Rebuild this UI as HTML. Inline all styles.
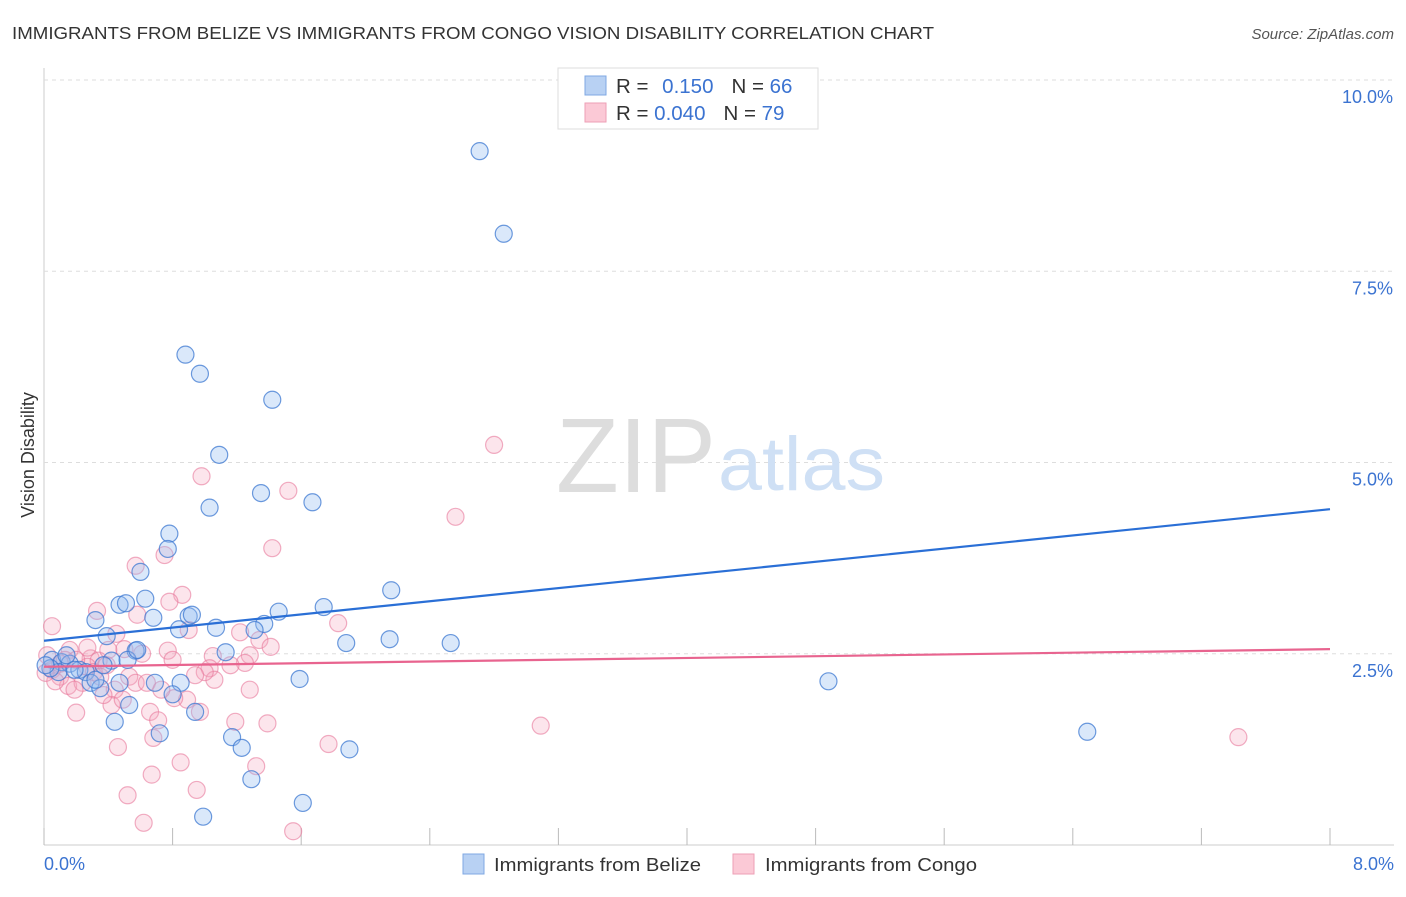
<!DOCTYPE html>
<html><head><meta charset="utf-8"><style>
body{margin:0;background:#fff;font-family:"Liberation Sans",sans-serif;}
svg text{font-family:"Liberation Sans",sans-serif;}
</style></head><body>
<svg id="chart" width="1406" height="892">
<text x="12" y="39" font-size="17.5" fill="#333" textLength="922" lengthAdjust="spacingAndGlyphs">IMMIGRANTS FROM BELIZE VS IMMIGRANTS FROM CONGO VISION DISABILITY CORRELATION CHART</text>
<text x="1394" y="39" font-size="15" fill="#555" font-style="italic" text-anchor="end">Source: ZipAtlas.com</text>
<text x="34" y="455" font-size="18" fill="#333" transform="rotate(-90 34 455)" text-anchor="middle">Vision Disability</text>
<g id="grid"></g>
<text x="716" y="492" font-size="106" fill="#ddd" text-anchor="end" font-family="Liberation Serif" textLength="160" lengthAdjust="spacingAndGlyphs">ZIP</text>
<text x="718" y="490" font-size="76" fill="#cfe0f5" textLength="167" lengthAdjust="spacingAndGlyphs">atlas</text>
<g id="pts"></g>
<g id="lines"></g>
<rect x="558" y="68" width="260" height="61" fill="#fff" stroke="#ddd"/>
<rect x="585" y="76" width="21" height="19" fill="#b8d1f3" stroke="#7fa8e3"/>
<rect x="585" y="103" width="21" height="19" fill="#fbc9d6" stroke="#ee9fb6"/>
<text x="616" y="93" font-size="20.5" fill="#333">R =  <tspan fill="#3b73d1" dx="8">0.150</tspan><tspan fill="#333" dx="18">N = </tspan><tspan fill="#3b73d1">66</tspan></text>
<text x="616" y="120" font-size="20.5" fill="#333">R = <tspan fill="#3b73d1">0.040</tspan><tspan fill="#333" dx="18">N = </tspan><tspan fill="#3b73d1">79</tspan></text>
<text x="44" y="870" font-size="18" fill="#3b73d1">0.0%</text>
<text x="1394" y="870" font-size="18" fill="#3b73d1" text-anchor="end">8.0%</text>
<rect x="463" y="854" width="21" height="20" fill="#b8d1f3" stroke="#7fa8e3"/>
<text x="494" y="871" font-size="18" fill="#333" textLength="207" lengthAdjust="spacingAndGlyphs">Immigrants from Belize</text>
<rect x="733" y="854" width="21" height="20" fill="#fbc9d6" stroke="#ee9fb6"/>
<text x="765" y="871" font-size="18" fill="#333" textLength="212" lengthAdjust="spacingAndGlyphs">Immigrants from Congo</text>
</svg>
<script>
const yTicks=[2.5,5.0,7.5,10.0];
const yTickLabels=["2.5%","5.0%","7.5%","10.0%"];
const xTicks=[0,0.8,1.6,2.4,3.2,4.0,4.8,5.6,6.4,7.2,8.0];
const belizeX=[2.71,2.86,0.88,0.97,1.42,1.09,1.35,1.03,1.67,0.78,0.77,0.60,2.16,0.63,0.47,0.51,1.74,0.32,0.68,0.90,0.92,0.84,1.07,1.46,1.37,1.31,0.39,1.88,2.15,2.53,0.57,1.13,0.42,0.05,0.11,0.16,0.09,0.22,0.26,0.29,0.47,0.35,0.69,0.85,1.59,4.88,0.80,0.53,0.94,0.44,0.72,1.17,1.23,1.90,1.29,1.61,0.99,6.49,0.04,0.14,0.19,0.32,0.01,0.37,0.52,0.58];
const belizeY=[9.07,7.99,6.41,6.16,5.82,5.10,4.60,4.41,4.48,4.07,3.87,3.57,3.33,3.22,3.14,3.16,3.11,2.94,2.97,2.99,3.01,2.82,2.84,3.05,2.89,2.81,2.73,2.64,2.69,2.64,2.54,2.52,2.41,2.42,2.39,2.37,2.26,2.29,2.26,2.12,2.12,2.05,2.12,2.12,2.17,2.14,1.97,1.83,1.74,1.61,1.46,1.41,1.27,1.25,0.86,0.55,0.37,1.48,2.31,2.48,2.29,2.16,2.35,2.35,2.42,2.55];
const congoX=[2.80,0.98,1.52,2.56,1.42,0.75,0.57,0.86,0.78,0.33,0.58,1.83,0.05,0.90,0.45,1.22,1.34,1.41,0.50,0.77,0.61,1.05,1.28,0.80,1.25,1.03,0.29,0.34,0.39,0.53,0.57,0.64,1.06,1.00,0.02,0.05,0.10,0.15,0.24,0.19,0.44,0.42,0.66,0.97,0.89,0.81,0.20,0.71,1.19,1.39,0.68,0.46,1.77,3.09,7.43,0.85,1.32,0.67,0.95,0.52,0.62,1.55,0.10,0.16,0.27,0.31,0.35,0.07,0.13,0.01,0.49,0.37,0.73,1.16,0.94,1.28,0.27,0.20,0.40];
const congoY=[5.23,4.82,4.63,4.29,3.88,3.79,3.65,3.27,3.18,3.06,3.01,2.90,2.86,2.81,2.76,2.78,2.68,2.59,2.56,2.54,2.50,2.47,2.48,2.42,2.38,2.31,2.44,2.41,2.35,2.20,2.12,2.12,2.16,2.26,2.48,2.29,2.20,2.08,2.12,2.03,2.03,1.83,1.74,1.74,1.90,1.92,1.73,1.63,1.61,1.59,1.40,1.28,1.32,1.56,1.41,1.08,1.03,0.92,0.72,0.65,0.29,0.18,2.37,2.55,2.33,2.26,2.20,2.14,2.42,2.25,1.90,1.96,2.03,2.35,2.22,2.03,2.58,2.42,2.55];
const belizeTrend=[2.67,4.39];
const congoTrend=[2.33,2.56];
const NS="http://www.w3.org/2000/svg";
const X0=44,X1=1330,Y0=845,YPER=76.5;
function sx(v){return X0+(X1-X0)*v/8;}
function sy(v){return Y0-v*YPER;}
function mk(tag,attrs,parent){const e=document.createElementNS(NS,tag);for(const k in attrs)e.setAttribute(k,attrs[k]);parent.appendChild(e);return e;}
const grid=document.getElementById('grid');
let ax=mk('line',{x1:X0,y1:68,x2:X0,y2:Y0,stroke:'#ccc'},grid);


let bx=mk('line',{x1:X0,y1:Y0,x2:1394,y2:Y0,stroke:'#ccc'},grid);


yTicks.forEach((t,i)=>{
 const g=mk('line',{x1:X0,y1:sy(t),x2:1394,y2:sy(t),stroke:'#ddd','stroke-dasharray':'4,4'},grid);
 
 
 const l=mk('text',{x:1393,y:sy(t)+23,'font-size':18,fill:'#3b73d1','text-anchor':'end'},grid);
 l.textContent=yTickLabels[i];
 
 
});
xTicks.forEach(t=>{
 const k=mk('line',{x1:sx(t),y1:828,x2:sx(t),y2:Y0,stroke:'#bbb'},grid);
 
 
});
const pts=document.getElementById('pts');
function draw(xs,ys,fill,stroke,name){
 xs.forEach((x,i)=>{
  const c=mk('circle',{cx:sx(x),cy:sy(ys[i]),r:8.5,fill:fill,stroke:stroke,'stroke-width':1.2},pts);
  
  
 });
}
draw(congoX,congoY,'rgba(246,170,192,0.3)','rgba(232,120,155,0.6)','congo-point');
draw(belizeX,belizeY,'rgba(150,190,240,0.35)','rgba(60,120,210,0.75)','belize-point');
const lines=document.getElementById('lines');
let bl=mk('line',{x1:sx(0),y1:sy(belizeTrend[0]),x2:sx(8),y2:sy(belizeTrend[1]),stroke:'#2a6fd6','stroke-width':2.2},lines);


let cl=mk('line',{x1:sx(0),y1:sy(congoTrend[0]),x2:sx(8),y2:sy(congoTrend[1]),stroke:'#e8648f','stroke-width':2.2},lines);


</script>
</body></html>
